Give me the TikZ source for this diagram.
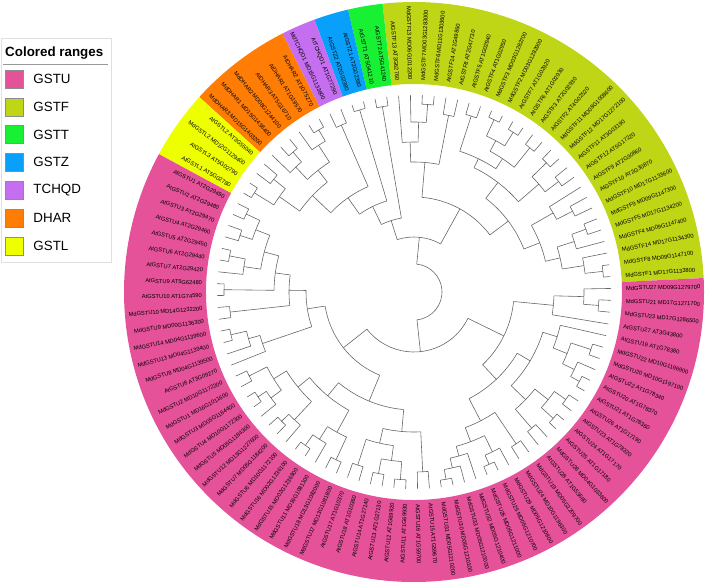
\documentclass[tikz,border=0pt]{standalone}
\usepackage{fontspec}
\setmainfont{Liberation Sans}
\usepackage{xcolor}
\usepackage{tikz}
\usetikzlibrary{positioning}
\definecolor{gstu}{RGB}{229, 82, 154}
\definecolor{gstf}{RGB}{190, 214, 22}
\definecolor{gstt}{RGB}{24, 240, 52}
\definecolor{gstz}{RGB}{8, 160, 250}
\definecolor{tchqd}{RGB}{198, 110, 240}
\definecolor{dhar}{RGB}{255, 125, 5}
\definecolor{gstl}{RGB}{238, 255, 0}
\definecolor{brgray}{RGB}{100, 100, 100}

\tikzset{
  branch/.style = {draw = brgray, line width = 0.5pt},
  leaflab/.style = {inner sep = 0pt, font = \fontsize{4.9}{5.6}\selectfont},
  swatch/.style = {draw = black!45, line width = 0.4pt, minimum size = 5.4mm, inner sep = 0pt},
  legtext/.style = {inner sep = 0pt, font = \fontsize{11.4}{13}\selectfont},
}

% leaf k sits at 4.5 + k*360/104 degrees
\newcommand{\clade}[4]{% parent radius, radius, first child, last child
  \pgfmathsetmacro\tA{4.5+3.4615*(#3)}%
  \pgfmathsetmacro\tB{4.5+3.4615*(#4)}%
  \pgfmathsetmacro\tM{(\tA+\tB)/2}%
  \draw[branch] (\tA:#2) arc[start angle=\tA, end angle=\tB, radius=#2];%
  \draw[branch] (\tM:#1) -- (\tM:#2);}
\newcommand{\leafline}[2]{%
  \pgfmathsetmacro\tA{4.5+3.4615*(#2)}%
  \draw[branch] (\tA:#1) -- (\tA:197);}
\newcommand{\rangeband}[3]{% colour, first leaf, last leaf
  \pgfmathsetmacro\tA{4.5+3.4615*(#2-0.5)}%
  \pgfmathsetmacro\tB{4.5+3.4615*(#3+0.5)}%
  \fill[#1] (\tA:208) arc[start angle=\tA, end angle=\tB, radius=208]
    -- (\tB:290) arc[start angle=\tB, end angle=\tA, radius=290] -- cycle;}

\begin{document}
\begin{tikzpicture}[x = 0.3mm, y = 0.3mm]
\useasboundingbox (0,0) rectangle (708,587);
\clip (0,0) rectangle (708,587);

\begin{scope}[shift = {(414,295)}]
  % coloured ranges
  \rangeband{gstf}{0}{26}
  \rangeband{gstt}{27}{28}
  \rangeband{gstz}{29}{30}
  \rangeband{tchqd}{31}{32}
  \rangeband{dhar}{33}{38}
  \rangeband{gstl}{39}{42}
  \rangeband{gstu}{43}{103}

  % inner nodes
  \foreach \pr/\r/\i/\j in {
    172/190/0/1, 150/172/0.5/2, 168/183/4/5, 150/168/3/4.5, 135/150/1.25/3.75,
    160/178/6/7, 135/160/6.5/8, 118/135/2.5/7.25, 165/182/9/10, 165/185/11/12,
    138/165/9.5/11.5, 160/185/13/14, 172/188/15/16, 172/190/17/18, 160/172/15.5/17.5,
    148/160/13.5/16.5, 148/185/19/20, 138/148/15/19.5, 118/138/10.5/17.25,
    95/118/4.875/13.875, 130/180/21/22, 170/188/23/24, 150/170/23.5/25,
    130/150/24.25/26, 95/130/21.5/25.125, 55/95/9.375/23.3125,
    75/188/27/28, 95/190/29/30, 115/182/31/32, 175/188/33/34, 155/175/33.5/35,
    172/185/36/37, 155/172/36.5/38, 140/155/34.25/37.25, 165/180/39/40,
    165/188/41/42, 140/165/39.5/41.5, 115/140/35.75/40.5, 95/115/31.5/38.125,
    75/95/29.5/34.8125, 55/75/27.5/32.15625, 28/55/16.34375/29.828125,
    170/185/43/44, 170/183/45/46, 155/170/43.5/45.5, 172/188/47/48, 155/172/47.5/49,
    140/155/44.5/48.25, 140/190/50/51, 125/140/46.375/50.5, 125/185/52/53,
    108/125/48.4375/52.5, 172/188/54/55, 160/172/54.5/56, 108/160/55.25/57,
    90/108/50.46875/56.125, 165/185/58/59, 178/188/60/61, 165/178/60.5/62,
    150/165/58.5/61.25, 175/185/63/64, 150/175/63.5/65, 135/150/59.875/64.25,
    175/188/66/67, 160/175/66.5/68, 160/185/69/70, 135/160/67.25/69.5,
    118/135/62.0625/68.375, 155/182/71/72, 170/185/73/74, 170/188/75/76,
    155/170/73.5/75.5, 140/155/71.5/74.5, 140/180/77/78, 118/140/73/77.5,
    90/118/65.21875/75.25, 60/90/53.296875/70.234375,
    180/190/79/80, 170/180/79.5/81, 160/170/80.25/82, 178/188/83/84, 160/178/83.5/85,
    145/160/81.125/84.25, 145/183/86/87, 120/145/82.6875/86.5, 155/180/88/89,
    172/188/90/91, 172/186/92/93, 155/172/90.5/92.5, 135/155/88.5/91.5,
    178/188/94/95, 165/178/94.5/96, 165/186/97/98, 150/165/95.25/97.5,
    135/150/96.375/99, 120/135/90/97.6875, 100/120/84.59375/93.84375,
    170/185/101/102, 140/170/101.5/103, 100/140/100/102.25,
    60/100/89.21875/101.125, 28/60/61.765625/95.171875,
    28/28/78.46875/127.0859375}
    \clade{\pr}{\r}{\i}{\j};

  % leaves
  \foreach \k/\pr in {
    0/190, 1/190, 2/172, 3/168, 4/183, 5/183, 6/178, 7/178, 8/160, 9/182,
    10/182, 11/185, 12/185, 13/185, 14/185, 15/188, 16/188, 17/190, 18/190, 19/185,
    20/185, 21/180, 22/180, 23/188, 24/188, 25/170, 26/150, 27/188, 28/188, 29/190,
    30/190, 31/182, 32/182, 33/188, 34/188, 35/175, 36/185, 37/185, 38/172, 39/180,
    40/180, 41/188, 42/188, 43/185, 44/185, 45/183, 46/183, 47/188, 48/188, 49/172,
    50/190, 51/190, 52/185, 53/185, 54/188, 55/188, 56/172, 57/160, 58/185, 59/185,
    60/188, 61/188, 62/178, 63/185, 64/185, 65/175, 66/188, 67/188, 68/175, 69/185,
    70/185, 71/182, 72/182, 73/185, 74/185, 75/188, 76/188, 77/180, 78/180, 79/190,
    80/190, 81/180, 82/170, 83/188, 84/188, 85/178, 86/183, 87/183, 88/180, 89/180,
    90/188, 91/188, 92/186, 93/186, 94/188, 95/188, 96/178, 97/186, 98/186, 99/150,
    100/140, 101/185, 102/185, 103/170}
    \leafline{\pr}{\k};

  % leaf labels
  \foreach \lab [count = \k from 0] in {
    MdGSTF1 MD17G1133800, MdGSTF8 MD09G1147100, MdGSTF14 MD17G1134300,
    MdGSTF4 MD09G1147400, MdGSTF5 MD17G1134200, MdGSTF9 MD09G1147300,
    MdGSTF10 MD17G1133600, AtGSTF10 AT2G30870, AtGSTF9 AT2G30860,
    AtGSTF12 AT5G17220, AtGSTF11 AT3G03190, MdGSTF12 MD17G1272100,
    MdGSTF11 MD08G1008600, AtGSTF2 AT4G02520, AtGSTF3 AT2G02930,
    AtGSTF6 AT1G02930, AtGSTF7 AT1G02920, MdGSTF2 MD03G1282900,
    MdGSTF3 MD03G1282700, AtGSTF4 AT1G02950, AtGSTF5 AT1G02940,
    AtGSTF8 AT2G47730, AtGSTF14 AT1G49860, MdGSTF6 MD11G1303600,
    MdGSTF7 MD03G1283000, MdGSTF13 MD06G1012200, AtGSTF13 AT3G62760,
    AtGSTT2 AT5G41240, AtGSTT1 AT5G41210, AtGSTZ1 AT2G02390, AtGSTZ2 AT2G02380,
    AtTCHQD1 AT1G77290, MdTCHQD1 MD15G1133600, AtDHAR2 AT1G75270,
    AtDHAR1 AT1G19570, AtDHAR3 AT5G16710, MdDHAR2 MD08G1244100,
    MdDHAR1 MD15G1438400, MdDHAR3 MD15G1403200, AtGSTL2 AT3G55040,
    MdGSTL2 MD12G1129400, AtGSTL3 AT5G02790, AtGSTL1 AT5G02780,
    AtGSTU1 AT2G29490, AtGSTU2 AT2G29480, AtGSTU3 AT2G29470, AtGSTU4 AT2G29460,
    AtGSTU5 AT2G29450, AtGSTU6 AT2G29440, AtGSTU7 AT2G29420, AtGSTU9 AT5G62480,
    AtGSTU10 AT1G74590, MdGSTU10 MD14G1232200, MdGSTU9 MD00G1136300,
    MdGSTU14 MD04G1139600, MdGSTU13 MD04G1139400, MdGSTU8 MD04G1139500,
    AtGSTU8 AT3G09270, MdGSTU2 MD10G1172200, MdGSTU1 MD16G1011600,
    MdGSTU3 MD05G1184400, MdGSTU4 MD10G1172300, MdGSTU5 MD05G1184300,
    MdGSTU12 MD13G1227600, MdGSTU7 MD05G1184200, MdGSTU6 MD10G1172100,
    MdGSTU16 MD02G1236100, MdGSTU15 MD02G1236800, MdGSTU11 MD16G1081100,
    MdGSTU18 MD13G1082000, MdGSTU17 MD13G1081800, AtGSTU17 AT1G10370,
    AtGSTU18 AT1G10360, AtGSTU14 AT1G27140, AtGSTU13 AT1G27130,
    AtGSTU12 AT1G69920, AtGSTU11 AT1G69930, AtGSTU16 AT1G59700,
    AtGSTU15 AT1G59670, MdGSTU31 MD05G1210200, MdGSTU30 MD05G1210100,
    MdGSTU33 MD05G1210000, MdGSTU32 MD05G1210400, MdGSTU26 MD05G1211000,
    MdGSTU25 MD05G1210700, MdGSTU29 MD05G1210800, MdGSTU24 MD10G1196300,
    MdGSTU19 MD05G1209700, AtGSTU28 AT1G53680, MdGSTU28 MD04G1033600,
    AtGSTU25 AT1G17180, AtGSTU24 AT1G17170, AtGSTU23 AT1G78320,
    AtGSTU26 AT1G17190, AtGSTU21 AT1G78360, AtGSTU20 AT1G78370,
    AtGSTU22 AT1G78340, MdGSTU20 MD10G1197100, MdGSTU22 MD10G1196900,
    AtGSTU19 AT1G78380, AtGSTU27 AT3G43800, MdGSTU23 MD17G1286500,
    MdGSTU21 MD17G1271700, MdGSTU27 MD09G1279700} {
    \pgfmathsetmacro\tA{4.5+3.4615*\k}
    \pgfmathtruncatemacro\lflip{(\tA>90)&&(\tA<270)}
    \ifnum\lflip=1
      \node[leaflab, anchor = east, rotate = \tA+180] (L\k) at (\tA:212) {\lab};
    \else
      \node[leaflab, anchor = west, rotate = \tA] (L\k) at (\tA:212) {\lab};
    \fi
  }
\end{scope}

% legend
\draw[black!12, line width = 0.6pt] (1,325) rectangle (111,549);
\node[legtext, anchor = base west, font = \fontsize{11.4}{13}\selectfont\bfseries] (title) at (5,530) {Colored ranges};
\draw[black!40, line width = 0.6pt] (3,523) -- (108,523);
\foreach \col/\nm [count = \i from 0] in {gstu/GSTU, gstf/GSTF, gstt/GSTT, gstz/GSTZ, tchqd/TCHQD, dhar/DHAR, gstl/GSTL} {
  \pgfmathsetmacro\sy{508-27.8*\i}
  \node[swatch, fill = \col] (s\i) at (14,\sy) {};
  \node[legtext, right = 3mm of s\i] (n\i) {\nm};
}
\end{tikzpicture}
\end{document}
